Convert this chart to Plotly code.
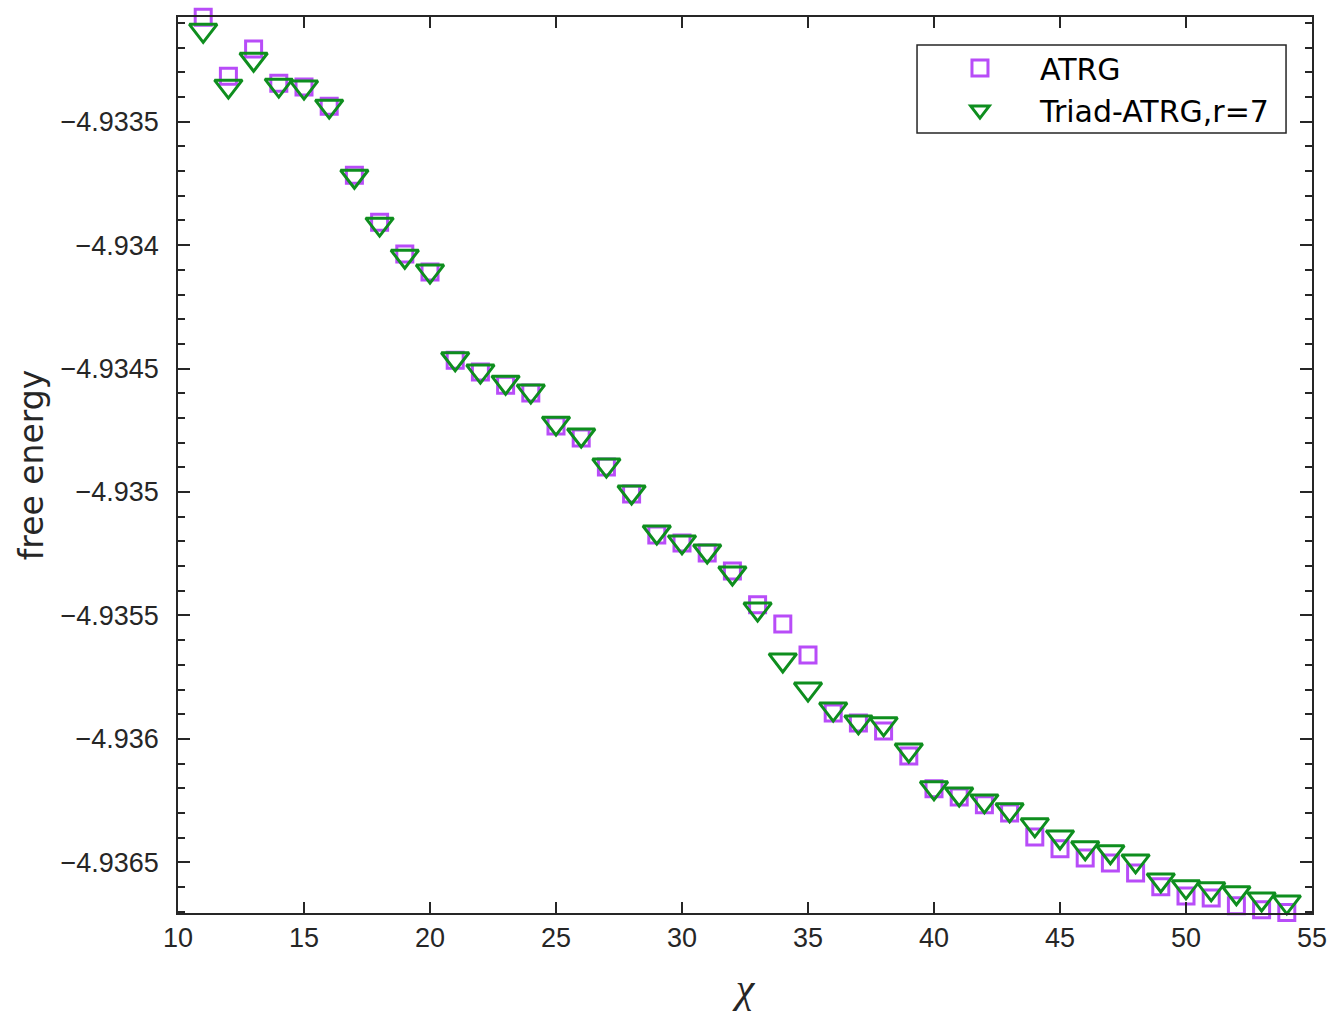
import plotly.graph_objects as go

chi = list(range(11, 55))

atrg = [
    -4.933077, -4.933316, -4.933206, -4.933344, -4.933360, -4.933437, -4.933717, -4.933907,
    -4.934036, -4.934109, -4.934466, -4.934514, -4.934567, -4.934599, -4.934733, -4.934781,
    -4.934899, -4.935008, -4.935174, -4.935206, -4.935247, -4.935320, -4.935457, -4.935534,
    -4.935660, -4.935895, -4.935935, -4.935968, -4.936069, -4.936202, -4.936235, -4.936267,
    -4.936300, -4.936397, -4.936445, -4.936482, -4.936502, -4.936543, -4.936599, -4.936636,
    -4.936644, -4.936676, -4.936692, -4.936703,
]

triad = [
    -4.933130, -4.933356, -4.933247, -4.933352, -4.933360, -4.933437, -4.933721, -4.933915,
    -4.934045, -4.934105, -4.934460, -4.934510, -4.934555, -4.934591, -4.934721, -4.934769,
    -4.934891, -4.935000, -4.935162, -4.935202, -4.935239, -4.935328, -4.935474, -4.935680,
    -4.935798, -4.935879, -4.935931, -4.935939, -4.936045, -4.936198, -4.936223, -4.936251,
    -4.936287, -4.936348, -4.936397, -4.936441, -4.936457, -4.936494, -4.936571, -4.936599,
    -4.936607, -4.936623, -4.936648, -4.936660,
]

y_tickvals = [-4.9365, -4.936, -4.9355, -4.935, -4.9345, -4.934, -4.9335]
y_ticktext = ["\u22124.9365", "\u22124.936", "\u22124.9355", "\u22124.935", "\u22124.9345", "\u22124.934", "\u22124.9335"]
x_tickvals = [10, 15, 20, 25, 30, 35, 40, 45, 50, 55]

names = ["ATRG", "Triad-ATRG,r=7"]

TICKFONT = "Liberation Sans, Arial, sans-serif"
WIDEFONT = "DejaVu Sans, sans-serif"
AX = "#262626"

fig = go.Figure()
fig.add_trace(go.Scatter(
    x=chi, y=atrg, mode="markers", name=names[0], cliponaxis=False,
    marker=dict(symbol="square-open", size=16, color="#B84CF8",
                line=dict(width=3, color="#B84CF8")),
))
fig.add_trace(go.Scatter(
    x=chi, y=triad, mode="markers", name=names[1], cliponaxis=False,
    marker=dict(symbol="triangle-down-open", size=24, color="#0E8E1E",
                line=dict(width=3, color="#0E8E1E")),
))

fig.update_layout(
    width=1332, height=1011,
    margin=dict(l=178, r=20, t=17, b=98),
    paper_bgcolor="white", plot_bgcolor="white",
    font=dict(family=TICKFONT, size=26, color="#262626"),
    showlegend=True,
    legend=dict(x=0.6543, y=0.972, xanchor="left", yanchor="top",
                bgcolor="rgba(0,0,0,0)", borderwidth=0,
                font=dict(family=WIDEFONT, size=30, color="black"),
                itemwidth=110, tracegroupgap=0),
    shapes=[dict(type="rect", xref="paper", yref="paper",
                 x0=0.6517, x1=0.9771, y0=0.8705, y1=0.96875,
                 line=dict(color="#262626", width=1.5), fillcolor="white", layer="below")],
)

fig.update_xaxes(
    range=[10, 55], tickvals=x_tickvals, showgrid=False, zeroline=False, automargin=False,
    showline=True, linecolor=AX, linewidth=1.5, mirror="ticks",
    ticks="inside", ticklen=11, tickwidth=1.5, tickcolor=AX,
    tickfont=dict(family=TICKFONT, size=27, color="#262626"),
    title=dict(text="<i>\u03c7</i>", font=dict(family="Liberation Serif, serif", size=42, color="#262626"), standoff=21),
)
fig.update_yaxes(
    range=[-4.936705, -4.933076], tickvals=y_tickvals, ticktext=y_ticktext,
    showgrid=False, zeroline=False, automargin=False,
    showline=True, linecolor=AX, linewidth=1.5, mirror="ticks",
    ticks="inside", ticklen=12, tickwidth=1.5, tickcolor=AX,
    minor=dict(dtick=0.0001, tick0=-4.9335, ticks="inside", ticklen=7, tickwidth=1.5, tickcolor=AX, showgrid=False),
    tickfont=dict(family=TICKFONT, size=27, color="#262626"),
    ticklabelstandoff=12,
    title=dict(text="free energy", font=dict(family=WIDEFONT, size=33, color="#262626"), standoff=7),
)

fig.write_html("out.html")
